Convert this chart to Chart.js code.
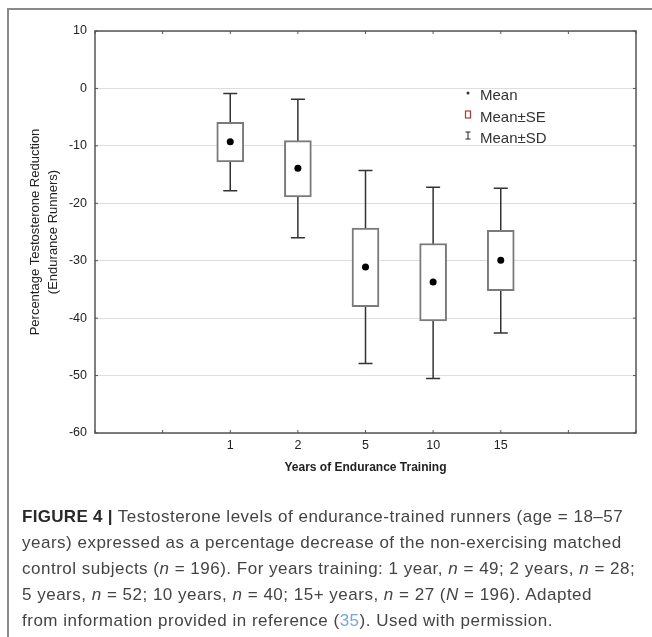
<!DOCTYPE html>
<html>
<head>
<meta charset="utf-8">
<script src="https://cdn.jsdelivr.net/npm/chart.js@4.4.1/dist/chart.umd.min.js"></script>
<style>
    html, body { margin: 0; padding: 0; background: #fff; }
    #wrap { position: relative; width: 652px; height: 637px; overflow: hidden; }
    #frame { position: absolute; left: 7px; top: 8px; width: 700px; height: 700px;
             border-left: 2px solid #8a8a8a; border-top: 2px solid #8a8a8a; pointer-events: none; }
    #chart { position: absolute; left: 0; top: 0; }
    #caption { position: absolute; left: 22px; top: 504px; font-family: 'Liberation Sans', Arial, sans-serif;
               font-size: 17px; letter-spacing: 0.5px; line-height: 26px; color: #444; white-space: nowrap; }
    #caption b { color: #2a2a2a; letter-spacing: 0.3px; }
    #caption .ref { color: #7aa6d6; }
</style>
</head>
<body>
<div id="wrap">
    <canvas id="chart" width="652" height="495"></canvas>
    <div id="frame"></div>
    <div id="caption">
        <b>FIGURE 4 |</b> Testosterone levels of endurance-trained runners (age = 18–57<br>
        years) expressed as a percentage decrease of the non-exercising matched<br>
        control subjects (<i>n</i> = 196). For years training: 1 year, <i>n</i> = 49; 2 years, <i>n</i> = 28;<br>
        5 years, <i>n</i> = 52; 10 years, <i>n</i> = 40; 15+ years, <i>n</i> = 27 (<i>N</i> = 196). Adapted<br>
        from information provided in reference (<span class="ref">35</span>). Used with permission.
    </div>
</div>
<script>
// data
const years = ['1', '2', '5', '10', '15'];
const meanVals = [-9.3, -13.9, -31.1, -33.7, -29.9];
const seLow = [-12.8, -18.9, -38.0, -40.5, -35.2];
const seHigh = [-5.9, -9.1, -24.3, -27.0, -24.7];
const sdLow = [-17.8, -26.0, -47.9, -50.5, -42.6];
const sdHigh = [-0.9, -1.9, -14.3, -17.2, -17.4];
const legendItems = ['Mean', 'Mean±SE', 'Mean±SD'];

// two empty slots on each side of the categories
const slot = i => i + 2;

const fontFamily = "'Liberation Sans', Arial, sans-serif";

// whiskers go under the boxes
const whiskerPlugin = {
    id: 'whiskers',
    beforeDatasetsDraw(chart) {
        const ctx = chart.ctx;
        const xs = chart.scales.x, ys = chart.scales.y;
        ctx.save();
        ctx.strokeStyle = '#333';
        ctx.lineWidth = 1.5;
        years.forEach((_, i) => {
            const px = xs.getPixelForValue(slot(i));
            const top = ys.getPixelForValue(sdHigh[i]);
            const bot = ys.getPixelForValue(sdLow[i]);
            ctx.beginPath();
            ctx.moveTo(px, top); ctx.lineTo(px, bot);
            ctx.moveTo(px - 7, top); ctx.lineTo(px + 7, top);
            ctx.moveTo(px - 7, bot); ctx.lineTo(px + 7, bot);
            ctx.stroke();
        });
        ctx.restore();
    }
};

// plot frame with inward ticks on all four sides
const framePlugin = {
    id: 'frame',
    afterDatasetsDraw(chart) {
        const ctx = chart.ctx;
        const a = chart.chartArea;
        const xs = chart.scales.x, ys = chart.scales.y;
        ctx.save();
        ctx.strokeStyle = '#555';
        ctx.lineWidth = 1.5;
        ctx.strokeRect(a.left, a.top, a.right - a.left, a.bottom - a.top);
        ctx.lineWidth = 1;
        ctx.beginPath();
        xs.ticks.forEach(t => {
            const px = xs.getPixelForValue(t.value);
            ctx.moveTo(px, a.top); ctx.lineTo(px, a.top + 3);
            ctx.moveTo(px, a.bottom); ctx.lineTo(px, a.bottom - 3);
        });
        ys.ticks.forEach(t => {
            const py = ys.getPixelForValue(t.value);
            ctx.moveTo(a.left, py); ctx.lineTo(a.left + 3, py);
            ctx.moveTo(a.right, py); ctx.lineTo(a.right - 3, py);
        });
        ctx.stroke();
        ctx.restore();
    }
};

// legend in the upper right of the plot
const legendPlugin = {
    id: 'boxLegend',
    afterDraw(chart) {
        const ctx = chart.ctx;
        const a = chart.chartArea;
        const ix = a.left + 373, tx = a.left + 385;
        const rows = [a.top + 65, a.top + 87, a.top + 108];
        ctx.save();
        ctx.font = '15px ' + fontFamily;
        ctx.fillStyle = '#333';
        ctx.textBaseline = 'middle';
        legendItems.forEach((txt, i) => ctx.fillText(txt, tx, rows[i]));
        // mean dot
        ctx.beginPath();
        ctx.arc(ix, rows[0] - 3, 1.5, 0, Math.PI * 2);
        ctx.fill();
        // SE box
        ctx.strokeStyle = '#b03838';
        ctx.lineWidth = 1.2;
        ctx.strokeRect(ix - 2.5, rows[1] - 7, 5, 7);
        // SD whisker glyph
        ctx.strokeStyle = '#222';
        ctx.lineWidth = 1;
        ctx.beginPath();
        ctx.moveTo(ix, rows[2] - 7); ctx.lineTo(ix, rows[2]);
        ctx.moveTo(ix - 2.5, rows[2] - 7); ctx.lineTo(ix + 2.5, rows[2] - 7);
        ctx.moveTo(ix - 2.5, rows[2]); ctx.lineTo(ix + 2.5, rows[2]);
        ctx.stroke();
        ctx.restore();
    }
};

const config = {
    type: 'bar',
    data: {
        datasets: [
            {
                type: 'scatter',
                label: 'Mean',
                data: years.map((_, i) => ({ x: slot(i), y: meanVals[i] })),
                pointRadius: 3.5,
                pointBackgroundColor: '#000',
                pointBorderWidth: 0,
                order: 0
            },
            {
                label: 'Mean±SE',
                data: years.map((_, i) => ({ x: slot(i), y: [seLow[i], seHigh[i]] })),
                backgroundColor: '#fff',
                borderColor: '#7a7a7a',
                borderWidth: 2,
                borderSkipped: false,
                barThickness: 27,
                order: 1
            }
        ]
    },
    options: {
        responsive: false,
        animation: false,
        layout: {
            padding: { left: 0, top: 31, right: 16, bottom: 0 }
        },
        plugins: {
            legend: { display: false },
            tooltip: { enabled: false }
        },
        scales: {
            x: {
                type: 'linear',
                offset: false,
                min: 0,
                max: 8,
                afterFit: scale => { scale.height = 62; },
                grid: { display: false, drawTicks: false, offset: false },
                border: { display: false },
                ticks: {
                    stepSize: 1,
                    autoSkip: false,
                    maxRotation: 0,
                    padding: 5,
                    color: '#222',
                    font: { family: fontFamily, size: 12.5 },
                    callback: v => years[v - 2] ?? ''
                },
                title: {
                    display: true,
                    text: 'Years of Endurance Training',
                    color: '#222',
                    font: { family: fontFamily, size: 12, weight: 'bold' },
                    padding: { top: 0, bottom: 20 }
                }
            },
            y: {
                min: -60,
                max: 10,
                afterFit: scale => { scale.width = 95; },
                grid: { color: '#dedede', lineWidth: 1, drawTicks: false },
                border: { display: false },
                ticks: {
                    stepSize: 10,
                    padding: 8,
                    color: '#222',
                    font: { family: fontFamily, size: 12.5 }
                },
                title: {
                    display: true,
                    text: ['Percentage Testosterone Reduction', '(Endurance Runners)'],
                    color: '#222',
                    font: { family: fontFamily, size: 13, lineHeight: 1.4 },
                    padding: { top: 26, bottom: 0 }
                }
            }
        }
    },
    plugins: [whiskerPlugin, framePlugin, legendPlugin]
};

const boxChart = new Chart(document.getElementById('chart'), config);
</script>
</body>
</html>
